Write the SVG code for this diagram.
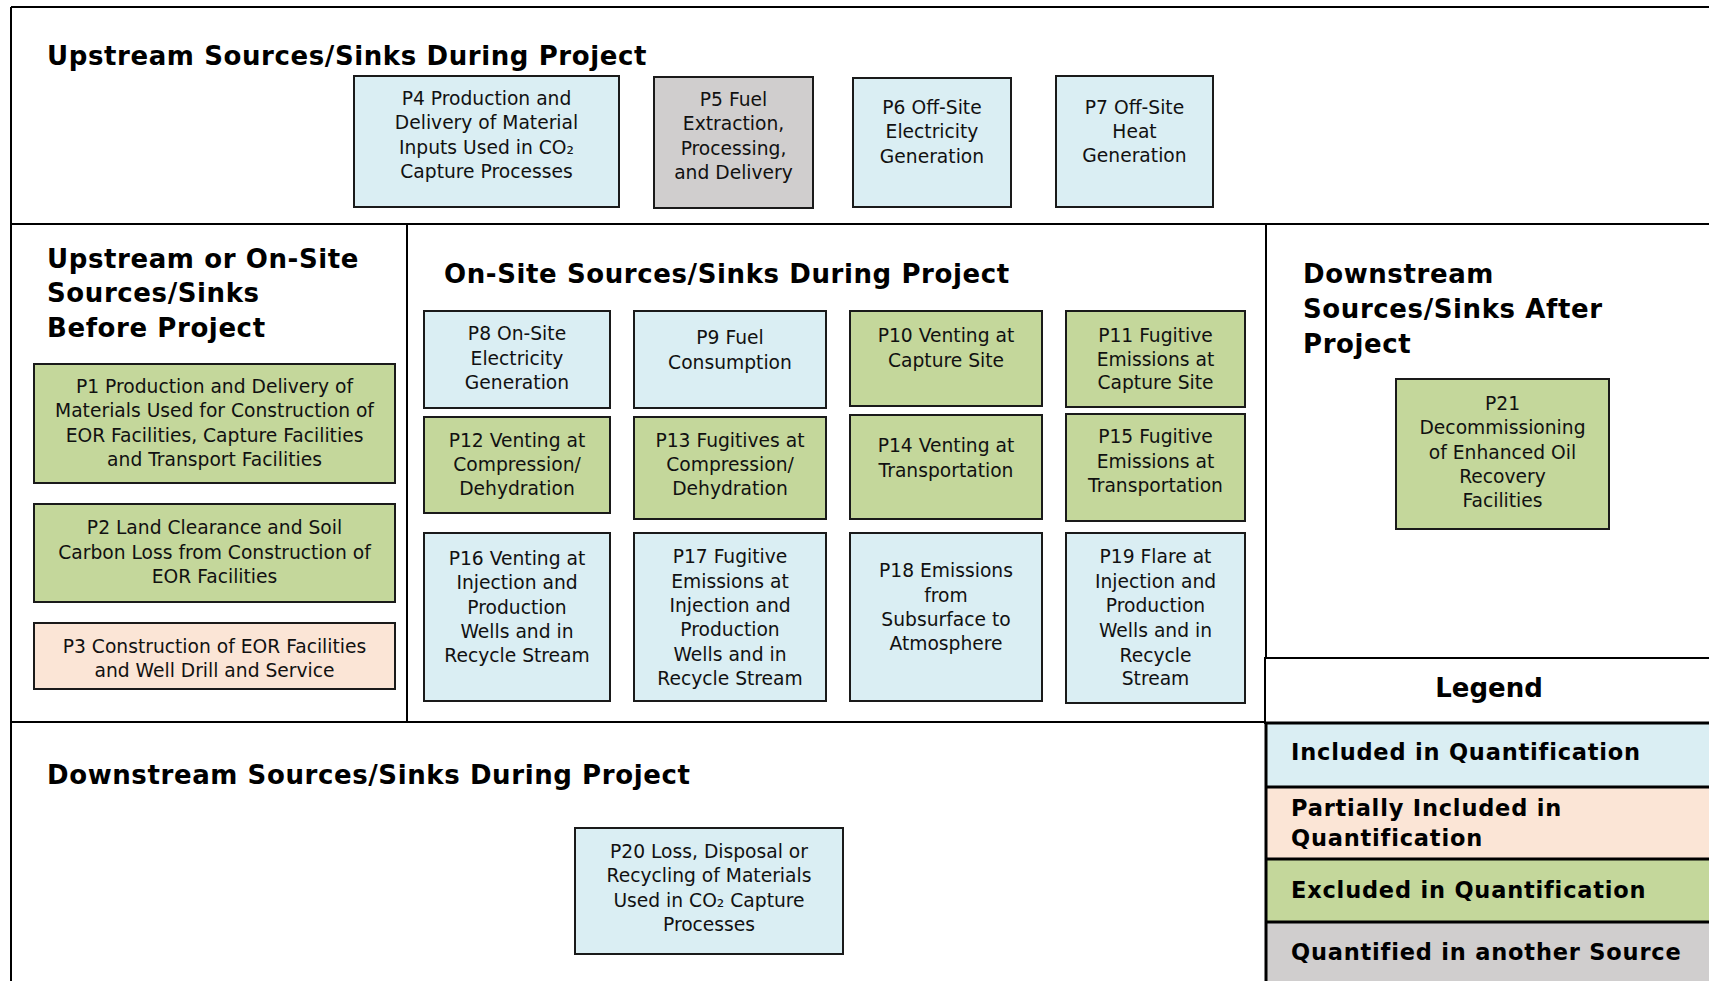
<svg xmlns="http://www.w3.org/2000/svg" width="1709" height="981" viewBox="0 0 1709 981">
<style>
.bg{fill:#ffffff}
.frame{stroke:#000;stroke-width:2;fill:none}
.box{stroke:#1a1a1a;stroke-width:2}
.inc{fill:#DAEEF3}
.exc{fill:#C4D79B}
.part{fill:#FBE5D6}
.oth{fill:#D0CECE}
.t{font-family:"DejaVu Sans",Verdana,sans-serif;font-size:18.7px;fill:#111;text-anchor:middle}
.h{font-family:"DejaVu Sans",Verdana,sans-serif;font-size:26px;font-weight:bold;fill:#000;letter-spacing:0.6px}
.lg{font-family:"DejaVu Sans",Verdana,sans-serif;font-size:22.5px;font-weight:bold;fill:#000;letter-spacing:0.8px}
.lrow{stroke:#000;stroke-width:3}
</style>
<rect class="bg" x="0" y="0" width="1709" height="981"/>
<g id="frame">
<line class="frame" x1="11" y1="7" x2="1709" y2="7"/>
<line class="frame" x1="11" y1="7" x2="11" y2="981"/>
<line class="frame" x1="11" y1="224" x2="1709" y2="224"/>
<line class="frame" x1="407" y1="224" x2="407" y2="722"/>
<line class="frame" x1="1266" y1="224" x2="1266" y2="658"/>
<line class="frame" x1="11" y1="722" x2="1265" y2="722"/>
</g>
<g id="titles">
<text class="h" x="47" y="65">Upstream Sources/Sinks During Project</text>
<text class="h" x="47" y="268">Upstream or On-Site</text>
<text class="h" x="47" y="302">Sources/Sinks</text>
<text class="h" x="47" y="337">Before Project</text>
<text class="h" x="444" y="283">On-Site Sources/Sinks During Project</text>
<text class="h" x="1303" y="283">Downstream</text>
<text class="h" x="1303" y="318">Sources/Sinks After</text>
<text class="h" x="1303" y="353">Project</text>
<text class="h" x="47" y="784">Downstream Sources/Sinks During Project</text>
</g>
<g id="P4"><rect class="box inc" x="354" y="76" width="265" height="131"/>
<text class="t" x="486.5" y="105">P4 Production and</text><text class="t" x="486.5" y="129">Delivery of Material</text><text class="t" x="486.5" y="154">Inputs Used in CO₂</text><text class="t" x="486.5" y="178">Capture Processes</text></g>
<g id="P5"><rect class="box oth" x="654" y="77" width="159" height="131"/>
<text class="t" x="733.5" y="106">P5 Fuel</text><text class="t" x="733.5" y="130">Extraction,</text><text class="t" x="733.5" y="155">Processing,</text><text class="t" x="733.5" y="179">and Delivery</text></g>
<g id="P6"><rect class="box inc" x="853" y="78" width="158" height="129"/>
<text class="t" x="932" y="114">P6 Off-Site</text><text class="t" x="932" y="138">Electricity</text><text class="t" x="932" y="163">Generation</text></g>
<g id="P7"><rect class="box inc" x="1056" y="76" width="157" height="131"/>
<text class="t" x="1134.5" y="114">P7 Off-Site</text><text class="t" x="1134.5" y="138">Heat</text><text class="t" x="1134.5" y="162">Generation</text></g>
<g id="P1"><rect class="box exc" x="34" y="364" width="361" height="119"/>
<text class="t" x="214.5" y="393">P1 Production and Delivery of</text><text class="t" x="214.5" y="417">Materials Used for Construction of</text><text class="t" x="214.5" y="442">EOR Facilities, Capture Facilities</text><text class="t" x="214.5" y="466">and Transport Facilities</text></g>
<g id="P2"><rect class="box exc" x="34" y="504" width="361" height="98"/>
<text class="t" x="214.5" y="534">P2 Land Clearance and Soil</text><text class="t" x="214.5" y="559">Carbon Loss from Construction of</text><text class="t" x="214.5" y="583">EOR Facilities</text></g>
<g id="P3"><rect class="box part" x="34" y="623" width="361" height="66"/>
<text class="t" x="214.5" y="653">P3 Construction of EOR Facilities</text><text class="t" x="214.5" y="677">and Well Drill and Service</text></g>
<g id="P8"><rect class="box inc" x="424" y="311" width="186" height="97"/>
<text class="t" x="517" y="340">P8 On-Site</text><text class="t" x="517" y="365">Electricity</text><text class="t" x="517" y="389">Generation</text></g>
<g id="P9"><rect class="box inc" x="634" y="311" width="192" height="97"/>
<text class="t" x="730" y="344">P9 Fuel</text><text class="t" x="730" y="369">Consumption</text></g>
<g id="P10"><rect class="box exc" x="850" y="311" width="192" height="95"/>
<text class="t" x="946" y="342">P10 Venting at</text><text class="t" x="946" y="367">Capture Site</text></g>
<g id="P11"><rect class="box exc" x="1066" y="311" width="179" height="96"/>
<text class="t" x="1155.5" y="342">P11 Fugitive</text><text class="t" x="1155.5" y="366">Emissions at</text><text class="t" x="1155.5" y="389">Capture Site</text></g>
<g id="P12"><rect class="box exc" x="424" y="417" width="186" height="96"/>
<text class="t" x="517" y="447">P12 Venting at</text><text class="t" x="517" y="471">Compression/</text><text class="t" x="517" y="495">Dehydration</text></g>
<g id="P13"><rect class="box exc" x="634" y="417" width="192" height="102"/>
<text class="t" x="730" y="447">P13 Fugitives at</text><text class="t" x="730" y="471">Compression/</text><text class="t" x="730" y="495">Dehydration</text></g>
<g id="P14"><rect class="box exc" x="850" y="415" width="192" height="104"/>
<text class="t" x="946" y="452">P14 Venting at</text><text class="t" x="946" y="477">Transportation</text></g>
<g id="P15"><rect class="box exc" x="1066" y="414" width="179" height="107"/>
<text class="t" x="1155.5" y="443">P15 Fugitive</text><text class="t" x="1155.5" y="468">Emissions at</text><text class="t" x="1155.5" y="492">Transportation</text></g>
<g id="P16"><rect class="box inc" x="424" y="533" width="186" height="168"/>
<text class="t" x="517" y="565">P16 Venting at</text><text class="t" x="517" y="589">Injection and</text><text class="t" x="517" y="614">Production</text><text class="t" x="517" y="638">Wells and in</text><text class="t" x="517" y="662">Recycle Stream</text></g>
<g id="P17"><rect class="box inc" x="634" y="533" width="192" height="168"/>
<text class="t" x="730" y="563">P17 Fugitive</text><text class="t" x="730" y="588">Emissions at</text><text class="t" x="730" y="612">Injection and</text><text class="t" x="730" y="636">Production</text><text class="t" x="730" y="661">Wells and in</text><text class="t" x="730" y="685">Recycle Stream</text></g>
<g id="P18"><rect class="box inc" x="850" y="533" width="192" height="168"/>
<text class="t" x="946" y="577">P18 Emissions</text><text class="t" x="946" y="602">from</text><text class="t" x="946" y="626">Subsurface to</text><text class="t" x="946" y="650">Atmosphere</text></g>
<g id="P19"><rect class="box inc" x="1066" y="533" width="179" height="170"/>
<text class="t" x="1155.5" y="563">P19 Flare at</text><text class="t" x="1155.5" y="588">Injection and</text><text class="t" x="1155.5" y="612">Production</text><text class="t" x="1155.5" y="637">Wells and in</text><text class="t" x="1155.5" y="662">Recycle</text><text class="t" x="1155.5" y="685">Stream</text></g>
<g id="P21"><rect class="box exc" x="1396" y="379" width="213" height="150"/>
<text class="t" x="1502.5" y="410">P21</text><text class="t" x="1502.5" y="434">Decommissioning</text><text class="t" x="1502.5" y="459">of Enhanced Oil</text><text class="t" x="1502.5" y="483">Recovery</text><text class="t" x="1502.5" y="507">Facilities</text></g>
<g id="P20"><rect class="box inc" x="575" y="828" width="268" height="126"/>
<text class="t" x="709" y="858">P20 Loss, Disposal or</text><text class="t" x="709" y="882">Recycling of Materials</text><text class="t" x="709" y="907">Used in CO₂ Capture</text><text class="t" x="709" y="931">Processes</text></g>
<g id="legend">
<rect x="1265" y="658" width="450" height="65" fill="#fff" stroke="#000" stroke-width="2"/>
<rect class="inc" x="1266" y="723" width="450" height="64"/>
<rect class="part" x="1266" y="787" width="450" height="72"/>
<rect class="exc" x="1266" y="859" width="450" height="63"/>
<rect class="oth" x="1266" y="922" width="450" height="62"/>
<line class="lrow" x1="1266" y1="723" x2="1709" y2="723"/>
<line class="lrow" x1="1266" y1="787" x2="1709" y2="787"/>
<line class="lrow" x1="1266" y1="859" x2="1709" y2="859"/>
<line class="lrow" x1="1266" y1="922" x2="1709" y2="922"/>
<line class="lrow" x1="1266" y1="722" x2="1266" y2="981"/>
<text class="h" x="1489" y="697" text-anchor="middle" style="letter-spacing:0">Legend</text>
<text class="lg" x="1291" y="760">Included in Quantification</text>
<text class="lg" x="1291" y="816">Partially Included in</text>
<text class="lg" x="1291" y="846">Quantification</text>
<text class="lg" x="1291" y="898">Excluded in Quantification</text>
<text class="lg" x="1291" y="960">Quantified in another Source</text>
</g>
</svg>
